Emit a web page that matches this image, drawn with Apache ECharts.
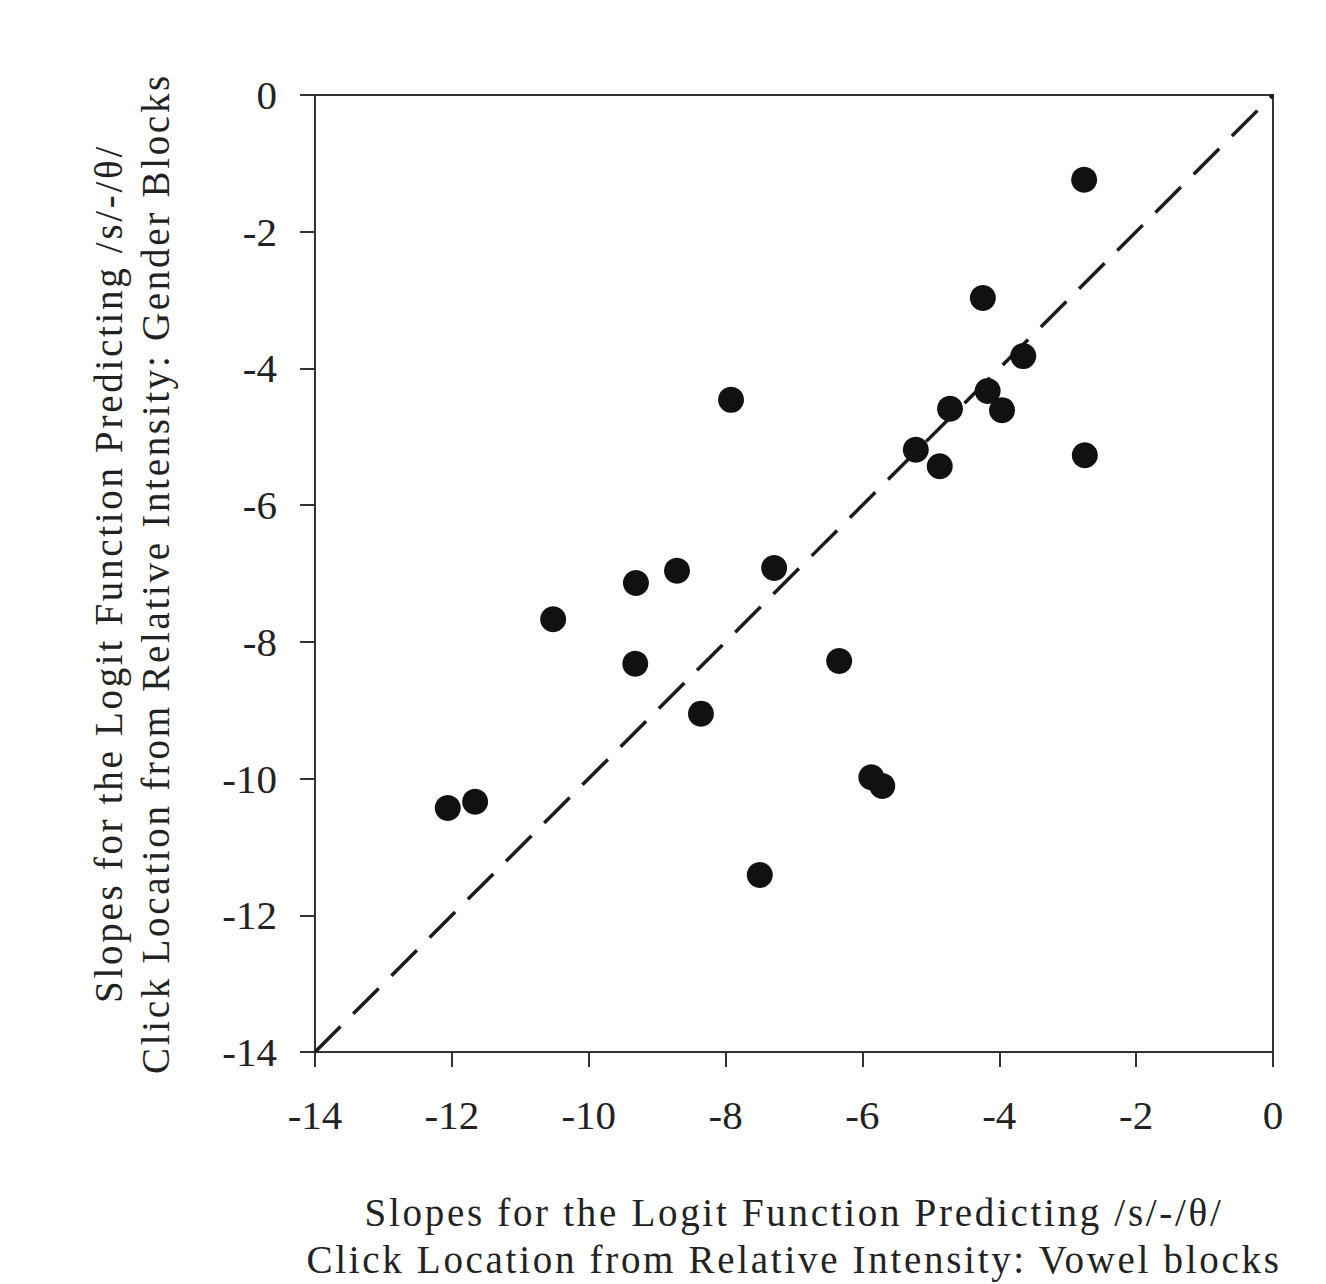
<!DOCTYPE html>
<html>
<head>
<meta charset="utf-8">
<script src="https://cdn.jsdelivr.net/npm/echarts@6/dist/echarts.min.js"></script>
<style>
html,body{margin:0;padding:0;background:#fff}
#c{width:1326px;height:1284px}
#c text[style*="39px"]{letter-spacing:2.7px}
</style>
</head>
<body>
<div id="c"></div>
<script>
const vowelSlopes = [-2.76,-4.24,-3.65,-4.17,-4.72,-3.96,-7.92,-5.22,-4.87,-2.75,-8.71,-7.29,-9.31,-10.52,-9.32,-6.34,-8.36,-5.87,-5.71,-11.66,-12.06,-7.50];
const genderSlopes = [-1.24,-2.97,-3.82,-4.33,-4.59,-4.61,-4.46,-5.19,-5.43,-5.27,-6.96,-6.92,-7.14,-7.67,-8.32,-8.28,-9.05,-9.98,-10.11,-10.34,-10.43,-11.41];
const identityLine = [[-14,-14],[0,0]];
const axisMin = -14, axisMax = 0, axisStep = 2;
const xTitle = 'Slopes for the Logit Function Predicting /s/-/θ/\nClick Location from Relative Intensity: Vowel blocks';
const yTitle = 'Slopes for the Logit Function Predicting /s/-/θ/\nClick Location from Relative Intensity: Gender Blocks';

const font = '"Liberation Serif", "Times New Roman", serif';
const chart = echarts.init(document.getElementById('c'), null, {renderer:'svg'});
const axisCommon = {
  type:'value', min:axisMin, max:axisMax, interval:axisStep,
  nameLocation:'middle',
  nameTextStyle:{fontFamily:font, fontSize:39, color:'#222', lineHeight:47},
  axisLine:{show:true, onZero:false, lineStyle:{color:'#333', width:2}},
  axisTick:{show:true, inside:false, length:15, lineStyle:{color:'#333', width:2}},
  axisLabel:{fontFamily:font, fontSize:41, color:'#222'},
  splitLine:{show:false}
};
chart.setOption({
  animation:false,
  backgroundColor:'#fff',
  grid:{left:315, top:95, right:53, bottom:232, outerBoundsMode:'none', containLabel:false,
        show:true, borderColor:'#333', borderWidth:2, backgroundColor:'transparent'},
  xAxis:Object.assign({}, axisCommon, {name:xTitle, nameGap:137,
        axisLabel:Object.assign({}, axisCommon.axisLabel, {margin:42})}),
  yAxis:Object.assign({}, axisCommon, {name:yTitle, nameGap:136,
        axisLabel:Object.assign({}, axisCommon.axisLabel, {margin:38})}),
  series:[
    {type:'line', data:identityLine, symbol:'none', silent:true,
     lineStyle:{color:'#1a1a1a', width:3.5, type:[36,18]}, z:1},
    {type:'scatter', data:vowelSlopes.map((v,i)=>[v, genderSlopes[i]]),
     symbol:'circle', symbolSize:26, itemStyle:{color:'#111', opacity:1}, z:2}
  ]
});
</script>
</body>
</html>
